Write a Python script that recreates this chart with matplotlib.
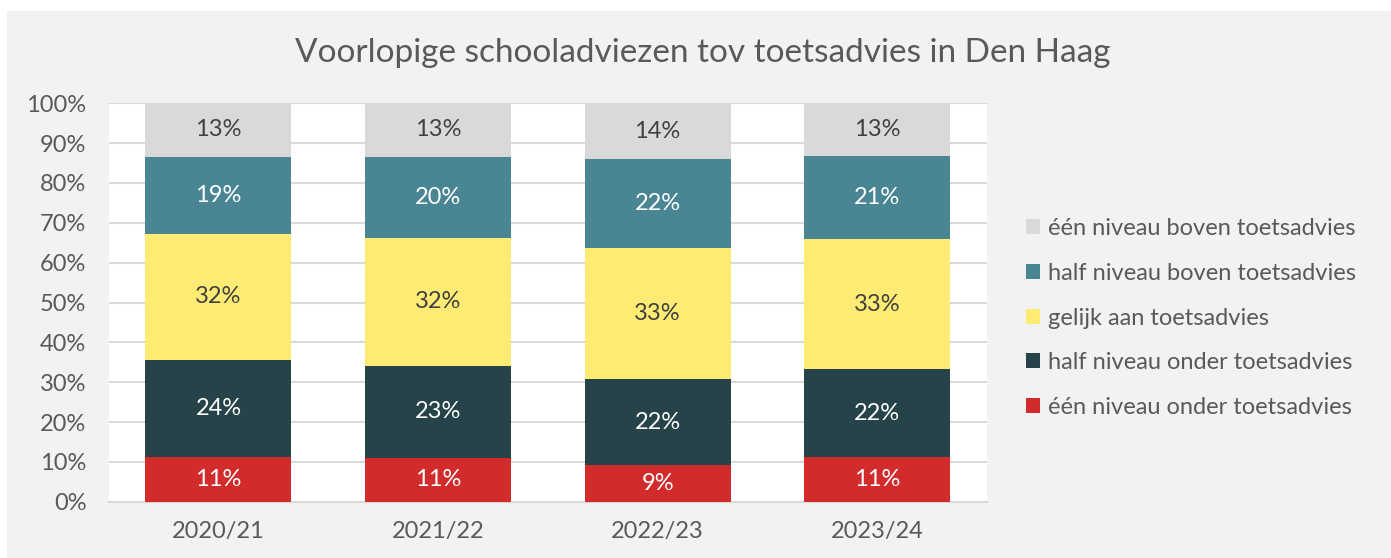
import matplotlib
matplotlib.use("Agg")
import matplotlib.pyplot as plt
from matplotlib.patches import Rectangle
import numpy as np

plt.rcParams["font.family"] = ["Lato", "DejaVu Sans"]

years = ["2020/21", "2021/22", "2022/23", "2023/24"]
een_onder = [11.3, 11.0, 9.2, 11.3]
half_onder = [24.3, 23.1, 21.6, 21.9]
gelijk = [31.6, 32.1, 33.0, 32.7]
half_boven = [19.4, 20.4, 22.1, 20.9]
een_boven = [13.4, 13.4, 14.1, 13.2]

series = [
    ("één niveau onder toetsadvies", een_onder, "#D12B2B", "white"),
    ("half niveau onder toetsadvies", half_onder, "#254349", "white"),
    ("gelijk aan toetsadvies", gelijk, "#FDEB73", "#404040"),
    ("half niveau boven toetsadvies", half_boven, "#4A8593", "white"),
    ("één niveau boven toetsadvies", een_boven, "#D9D9D9", "#404040"),
]

W, H = 1391, 558
fig = plt.figure(figsize=(W / 100, H / 100), dpi=100, facecolor="white")
fig.patches.append(Rectangle((7 / W, 0), 1, 1 - 11 / H, transform=fig.transFigure,
                             facecolor="#F2F2F2", edgecolor="none", zorder=-10))

ax = fig.add_axes([108.7 / W, 1 - 501.7 / H, (987 - 108.7) / W, (501.7 - 103.3) / H])
ax.set_facecolor("white")

x = np.arange(len(years))
bottom = np.zeros(len(years))
handles = []
for name, vals, color, tcolor in series:
    vals = np.array(vals)
    bars = ax.bar(x, vals, 0.665, bottom=bottom, color=color, label=name, zorder=3)
    ax.bar_label(bars, labels=[f"{round(v)}%" for v in vals], label_type="center",
                 color=tcolor, fontsize=17)
    bottom += vals
    handles.append(bars)

ax.set_xlim(-0.5, len(years) - 0.5)
ax.set_ylim(0, 100)
ax.set_yticks(np.arange(0, 101, 10))
ax.set_yticklabels([f"{v}%" for v in range(0, 101, 10)])
ax.set_xticks(x)
ax.set_xticklabels(years)
ax.tick_params(axis="both", length=0, labelsize=17, labelcolor="#595959")
ax.tick_params(axis="y", pad=16)
ax.tick_params(axis="x", pad=14)
ax.grid(axis="y", color="#D9D9D9", linewidth=1.5, zorder=0)
for s in ["top", "right", "left"]:
    ax.spines[s].set_visible(False)
ax.spines["bottom"].set_color("#D9D9D9")
ax.spines["bottom"].set_linewidth(1.5)

fig.text(0.505, 1 - 62 / H, "Voorlopige schooladviezen tov toetsadvies in Den Haag",
         ha="center", va="baseline", fontsize=24, color="#595959")

leg = fig.legend(handles[::-1], [s[0] for s in series][::-1], loc="center left",
                 bbox_to_anchor=(1005 / W, 1 - 318 / H), frameon=False, fontsize=17,
                 handlelength=0.6, handleheight=0.6, handletextpad=0.3,
                 labelspacing=1.0, labelcolor="#595959")

fig.savefig("out.png", dpi=100, facecolor=fig.get_facecolor())
